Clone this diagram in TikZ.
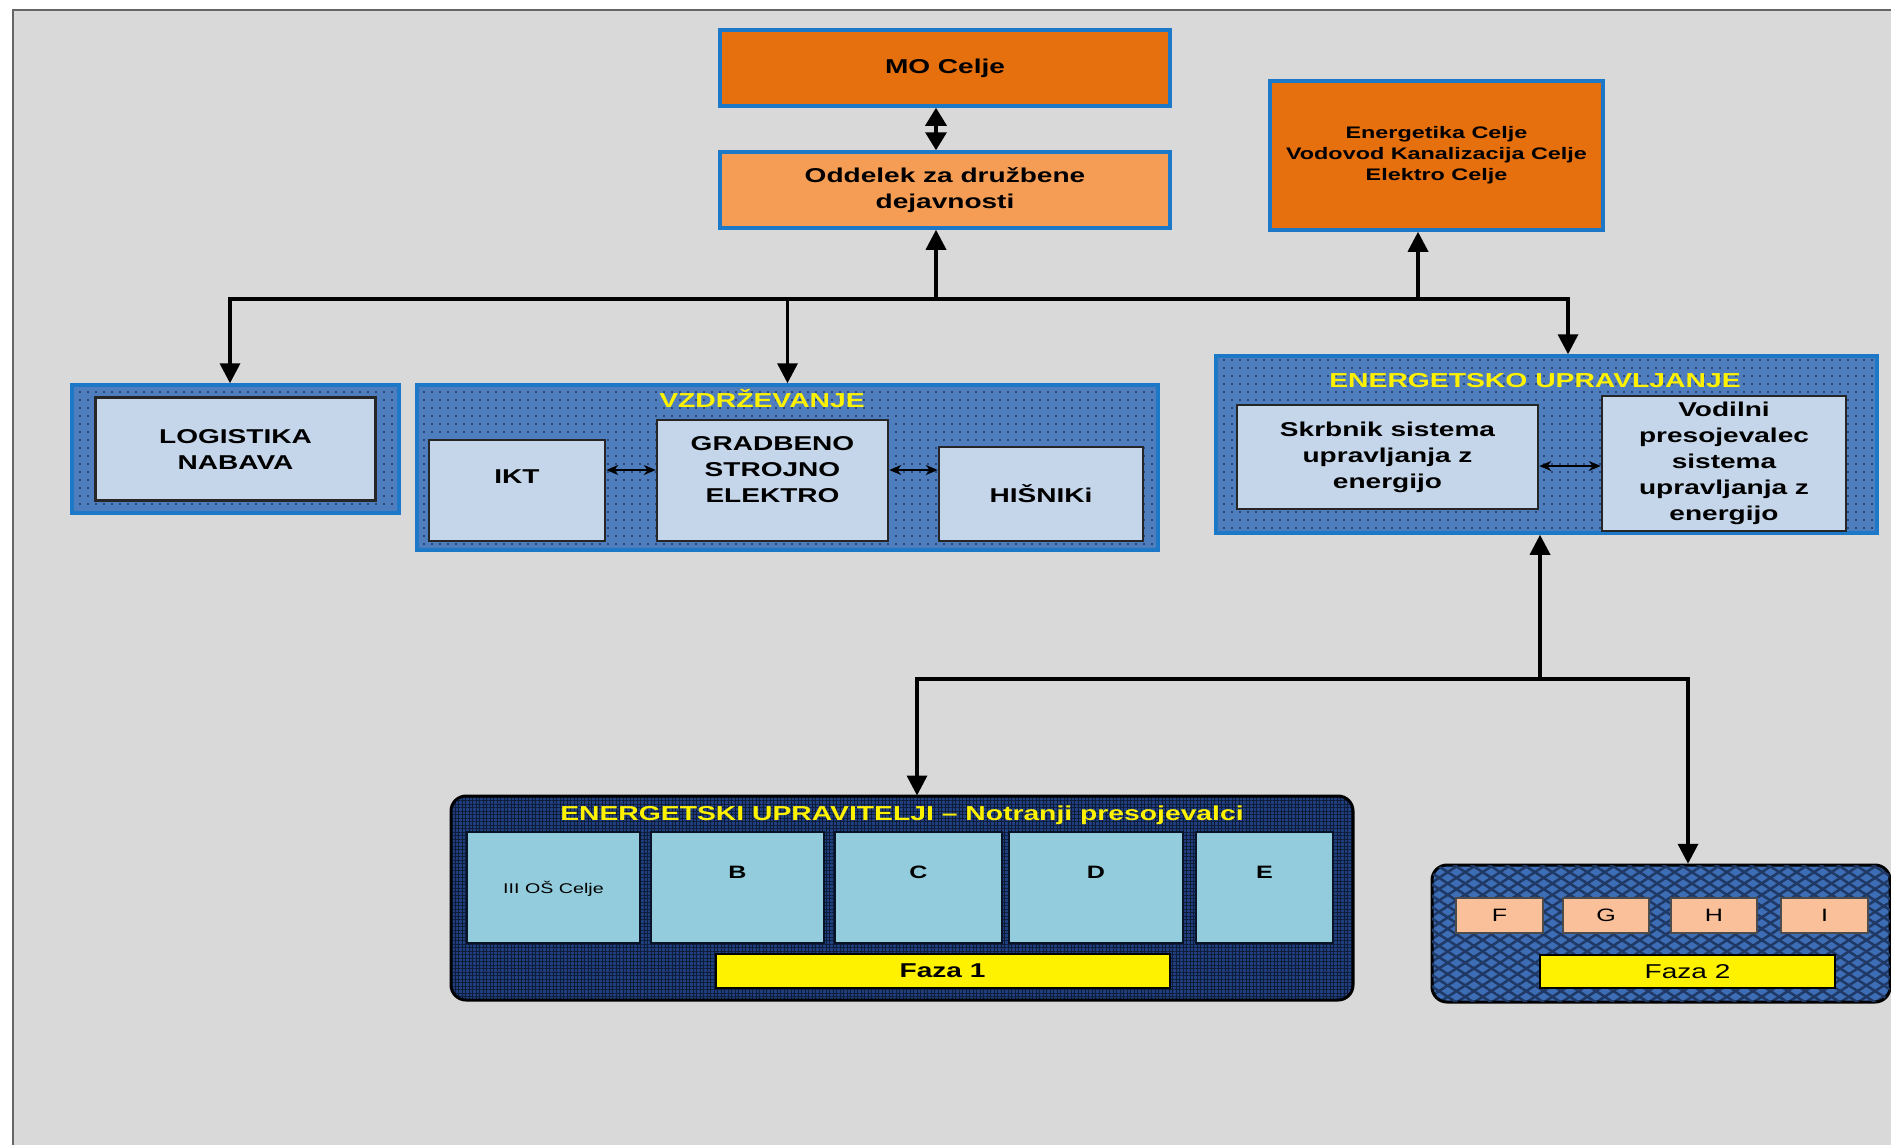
\documentclass[tikz,border=0pt]{standalone}
\usepackage{fontspec}
\setmainfont{Liberation Sans}[FakeStretch=1.4]
\usetikzlibrary{shapes, arrows.meta, patterns.meta}
\definecolor{bggray}{HTML}{D9D9D9}
\definecolor{darkorange}{HTML}{E66F0E}
\definecolor{lightorange}{HTML}{F59C55}
\definecolor{rimblue}{HTML}{1E78C8}
\definecolor{grpblue}{HTML}{4F7EBE}
\definecolor{dotnavy}{HTML}{1F3864}
\definecolor{paleblue}{HTML}{C6D6EA}
\definecolor{navy}{HTML}{1F3F7F}
\definecolor{cellcyan}{HTML}{93CDDD}
\definecolor{peach}{HTML}{FAC09A}
\definecolor{midblue}{HTML}{3D6DB5}
\tikzstyle{frame} = [draw=black!60, line width=0.04cm, fill=bggray]
\tikzstyle{topbox} = [rectangle, minimum width=9cm, minimum height=1.52cm, text centered, align=center, draw=rimblue, line width=0.07cm, fill=darkorange, font=\bfseries\fontsize{11.4}{14.8}\selectfont]
\tikzstyle{group} = [rectangle, draw=rimblue, line width=0.07cm, preaction={fill=grpblue}, pattern={Dots[distance=0.16cm, radius=0.022cm]}, pattern color=dotnavy]
\tikzstyle{unit} = [rectangle, text centered, align=center, draw=black!85, line width=0.05cm, fill=paleblue, font=\bfseries\fontsize{11.4}{14.8}\selectfont]
\tikzstyle{title} = [inner sep=0pt, text=yellow, font=\bfseries\fontsize{11.5}{13}\selectfont]
\tikzstyle{phase} = [rectangle, rounded corners=0.3cm, draw=black, line width=0.06cm, preaction={fill=navy}, pattern={Hatch[distance=0.07cm, line width=0.02cm]}, pattern color=black!55!navy]
\tikzstyle{phasetwo} = [rectangle, rounded corners=0.3cm, draw=black, line width=0.06cm, preaction={fill=midblue}, pattern={Lines[angle=33, distance=0.19cm, line width=0.05cm]}, pattern color=dotnavy, postaction={pattern={Lines[angle=-33, distance=0.19cm, line width=0.05cm]}, pattern color=dotnavy}]
\tikzstyle{cell} = [rectangle, minimum height=2.22cm, text depth=0.62cm, draw=black!70!navy, line width=0.04cm, fill=cellcyan, font=\bfseries\fontsize{10.2}{12}\selectfont]
\tikzstyle{school} = [rectangle, minimum width=1.74cm, minimum height=0.70cm, draw=black!70, line width=0.04cm, fill=peach, font=\fontsize{10.2}{12}\selectfont]
\tikzstyle{faza} = [rectangle, minimum height=0.68cm, draw=black, line width=0.04cm, fill=yellow, font=\fontsize{11.4}{14}\selectfont]
\tikzstyle{edge} = [line width=0.07cm, ->, >={Triangle[length=0.4cm, width=0.4cm]}]
\tikzstyle{dedge} = [line width=0.07cm, <->, >={Triangle[length=0.36cm, width=0.42cm]}]
\tikzstyle{link} = [line width=0.04cm, <->, >={Stealth[length=0.24cm, width=0.2cm]}]

\begin{document}
\begin{tikzpicture}[node distance=2.44cm]

\useasboundingbox (0,0) rectangle (37.82,-22.88);
\fill [white] (0,0) rectangle (37.82,-22.88);
\draw [frame] (0.26,-0.2) rectangle (39,-24);

\node (0) [topbox] at (18.9,-1.36) {MO Celje};
\node (1) [topbox, fill=lightorange, below of=0] {Oddelek za družbene\\dejavnosti};
\node (2) [topbox, minimum width=6.66cm, minimum height=2.98cm, font=\bfseries\fontsize{9.5}{12}\selectfont, xshift=7.39cm, yshift=-1.75cm, right of=0] {Energetika Celje\\Vodovod Kanalizacija Celje\\Elektro Celje};

\node (3) [group, minimum width=6.54cm, minimum height=2.56cm, xshift=-14.19cm, yshift=-2.74cm, below of=1] {};
\node (4) [unit, minimum width=5.6cm, minimum height=2.06cm] at (3) {LOGISTIKA\\NABAVA};

\node (5) [group, minimum width=14.82cm, minimum height=3.3cm, xshift=8.6cm, yshift=-0.37cm, right of=3] {};
\node (6) [unit, minimum width=3.52cm, minimum height=2.02cm, text depth=0.56cm, xshift=-5.41cm, yshift=-0.46cm] at (5) {IKT};
\node (7) [unit, minimum width=4.62cm, minimum height=2.42cm, text depth=0.46cm, xshift=2.67cm, yshift=0.2cm, right of=6] {GRADBENO\\STROJNO\\ELEKTRO};
\node (8) [unit, minimum width=4.08cm, minimum height=1.88cm, xshift=2.93cm, yshift=-0.27cm, right of=7] {HIŠNIKi};
\node (25) [title, xshift=-0.51cm, yshift=-0.31cm] at (5.north) {VZDRŽEVANJE};

\node (9) [group, minimum width=13.22cm, minimum height=3.54cm, xshift=12.74cm, yshift=0.46cm, right of=5] {};
\node (10) [unit, minimum width=6.02cm, minimum height=2.08cm, xshift=-3.18cm, yshift=-0.25cm] at (9) {Skrbnik sistema\\upravljanja z\\energijo};
\node (11) [unit, minimum width=4.88cm, minimum height=2.7cm, xshift=4.29cm, yshift=-0.13cm, right of=10] {Vodilni\\presojevalec\\sistema\\upravljanja z\\energijo};
\node (26) [title, xshift=-0.23cm, yshift=-0.52cm] at (9.north) {ENERGETSKO UPRAVLJANJE};

\node (12) [phase, minimum width=18.04cm, minimum height=4.08cm, xshift=2.29cm, yshift=-6.17cm, below of=5] {};
\node (13) [cell, minimum width=3.46cm, text depth=0pt, font=\fontsize{8}{10}\selectfont, xshift=-6.97cm, yshift=0.21cm] at (12) {III OŠ Celje};
\node (14) [cell, minimum width=3.46cm, xshift=1.24cm, right of=13] {B};
\node (15) [cell, minimum width=3.34cm, xshift=1.18cm, right of=14] {C};
\node (16) [cell, minimum width=3.48cm, xshift=1.11cm, right of=15] {D};
\node (17) [cell, minimum width=2.74cm, xshift=0.93cm, right of=16] {E};
\node (18) [faza, minimum width=9.08cm, font=\bfseries\fontsize{11.4}{14}\selectfont, xshift=0.48cm, yshift=0.77cm, below of=15] {Faza 1};
\node (27) [title, yshift=-0.4cm] at (12.north) {ENERGETSKI UPRAVITELJI – Notranji presojevalci};

\node (19) [phasetwo, minimum width=9.16cm, minimum height=2.74cm, xshift=12.74cm, yshift=-0.71cm, right of=12] {};
\node (20) [school, xshift=-3.23cm, yshift=0.36cm] at (19) {F};
\node (21) [school, minimum width=1.72cm, xshift=-0.31cm, right of=20] {G};
\node (22) [school, minimum width=1.72cm, xshift=-0.28cm, right of=21] {H};
\node (23) [school, xshift=-0.23cm, right of=22] {I};
\node (24) [faza, minimum width=5.9cm, minimum height=0.66cm, xshift=0.53cm, yshift=-0.76cm] at (19) {Faza 2};

\coordinate (b1) at (0,-5.98);
\coordinate (b2) at (0,-13.58);

\draw [dedge] ([xshift=-0.18cm]0.south) -- ([xshift=-0.18cm]1.north);
\draw [edge] ([xshift=-0.18cm]1.south |- b1) -- ([xshift=-0.18cm]1.south);
\draw [edge] ([xshift=-0.18cm]1.south |- b1) -| ([xshift=-0.11cm]3.north);
\draw [edge] ([xshift=-0.18cm]1.south |- b1) -| (5.north);
\draw [edge] ([xshift=-0.18cm]1.south |- b1) -| ([xshift=0.43cm]9.north);
\draw [edge] ([xshift=-0.37cm]2.south |- b1) -- ([xshift=-0.37cm]2.south);

\draw [link] ([yshift=0.41cm]6.east) -- ([yshift=0.41cm]6.east -| 7.west);
\draw [link] ([yshift=0.21cm]7.east) -- ([yshift=0.21cm]7.east -| 8.west);
\draw [link] ([yshift=-0.18cm]10.east) -- ([yshift=-0.18cm]10.east -| 11.west);

\draw [edge] ([xshift=-0.13cm]9.south |- b2) -- ([xshift=-0.13cm]9.south);
\draw [edge] ([xshift=-0.13cm]9.south |- b2) -| ([xshift=0.3cm]12.north);
\draw [edge] ([xshift=-0.13cm]9.south |- b2) -| ([xshift=0.54cm]19.north);

\end{tikzpicture}
\end{document}
